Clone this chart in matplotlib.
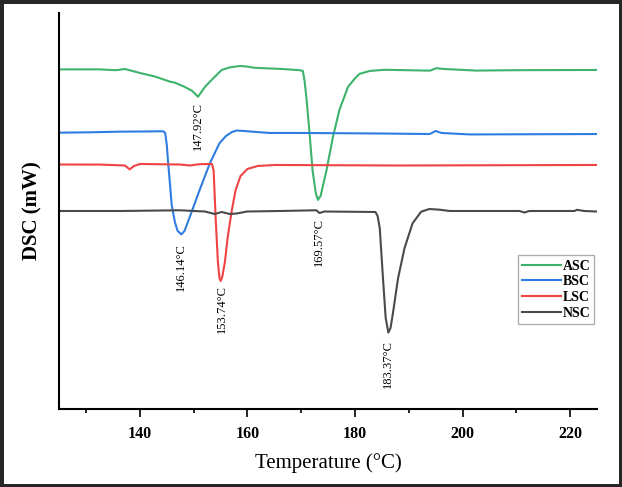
import matplotlib
matplotlib.use("Agg")
import matplotlib.pyplot as plt
from matplotlib.ticker import MultipleLocator

plt.rcParams["font.family"] = ["Liberation Serif", "DejaVu Serif"]

# DSC traces: temperature (°C) and heat flow (arbitrary mW, stacked)
asc_t = [125, 132.6, 135.3, 135.9, 137.2, 140.0, 142.8, 145.6, 146.5, 148.3, 149.7,
         150.8, 152.1, 153.3, 155.2, 156.7, 158.6, 160.0, 161.3, 166.5, 169.7, 170.3,
         170.6, 171.0, 171.6, 172.1, 172.7, 173.1, 173.6, 174.7, 175.9, 177.1, 178.7,
         179.9, 180.8, 182.7, 185.5, 193.2, 194.0, 195.1, 196.6, 202.5, 210.6, 224.9]
asc_v = [8.57, 8.57, 8.55, 8.555, 8.58, 8.48, 8.39, 8.26, 8.235, 8.13, 8.03,
         7.88, 8.13, 8.30, 8.555, 8.62, 8.656, 8.64, 8.61, 8.58, 8.55, 8.53,
         8.30, 7.80, 6.87, 6.03, 5.45, 5.28, 5.38, 6.03, 6.87, 7.55, 8.13,
         8.33, 8.455, 8.53, 8.56, 8.54, 8.54, 8.60, 8.58, 8.54, 8.55, 8.555]

bsc_t = [125, 130.7, 136.3, 140.9, 144.3, 144.7, 145.0, 145.2, 145.6, 145.9, 146.5,
         147.0, 147.7, 148.3, 149.3, 151.1, 153.0, 154.8, 156.0, 157.1, 158.0, 160.4,
         164.1, 169.7, 184.6, 193.9, 195.0, 196.1, 201.3, 224.9]
bsc_v = [6.974, 6.984, 7.0, 7.005, 7.01, 6.967, 6.66, 6.29, 5.66, 5.16, 4.72,
         4.50, 4.41, 4.50, 4.86, 5.53, 6.20, 6.71, 6.89, 6.99, 7.03, 7.005,
         6.967, 6.967, 6.954, 6.94, 7.017, 6.967, 6.93, 6.94]

lsc_t = [125, 132.6, 137.2, 138.1, 138.9, 140.0, 147.4, 149.3, 151.1, 153.4, 153.7,
         154.1, 154.5, 154.8, 155.0, 155.3, 155.8, 156.3, 157.1, 157.8, 158.7, 160.0,
         161.9, 165.1, 188.3, 224.9]
lsc_v = [6.172, 6.17, 6.147, 6.05, 6.135, 6.185, 6.172, 6.147, 6.18, 6.185, 6.03,
         4.77, 3.71, 3.31, 3.235, 3.335, 3.71, 4.32, 5.03, 5.53, 5.88, 6.06,
         6.135, 6.16, 6.147, 6.16]

nsc_t = [125, 136.3, 147.4, 152.1, 153.9, 155.2, 156.7, 158.0, 159.9, 166.0, 172.8,
         173.4, 174.3, 183.8, 184.2, 184.6, 185.2, 185.7, 186.2, 186.6, 187.0, 188.0,
         189.2, 190.7, 192.3, 193.8, 195.7, 197.6, 210.6, 211.5, 212.4, 220.8, 221.3,
         222.6, 224.9]
nsc_v = [5.0, 5.0, 5.018, 4.987, 4.924, 4.975, 4.924, 4.937, 4.987, 5.0, 5.018,
         4.95, 4.987, 4.975, 4.874, 4.571, 3.303, 2.302, 1.936, 2.05, 2.378, 3.303,
         4.06, 4.69, 4.982, 5.05, 5.033, 5.0, 5.0, 4.962, 5.0, 5.0, 5.03,
         5.0, 4.987]

series = ["ASC", "BSC", "LSC", "NSC"]
colors = ["#3db36b", "#2f7de1", "#f04343", "#4a4a4a"]

# peak annotations: text, temperature and value of the label top
peak_labels = ["147.92°C", "146.14°C", "153.74°C", "169.57°C", "183.37°C"]
peak_t = [150.8, 147.7, 155.25, 173.3, 186.1]
peak_v = [7.75, 4.19, 3.13, 4.82, 1.75]

fig = plt.figure(figsize=(6.22, 4.87), dpi=100)
fig.patch.set_edgecolor("#262626")
fig.patch.set_linewidth(3.8)
ax = fig.add_axes([0.0953, 0.1595, 0.8645, 0.8145])

curves = [(asc_t, asc_v), (bsc_t, bsc_v), (lsc_t, lsc_v), (nsc_t, nsc_v)]
for (t, v), name, c in zip(curves, series, colors):
    ax.plot(t, v, color=c, lw=1.5, label=name, solid_joinstyle="round")

for txt, t, v in zip(peak_labels, peak_t, peak_v):
    ax.text(t, v, txt, rotation=90, ha="center", va="top", fontsize=9)

ax.set_xlim(125, 225)
ax.set_ylim(0, 10)
ax.xaxis.set_major_locator(MultipleLocator(20))
ax.xaxis.set_minor_locator(MultipleLocator(10))
ax.tick_params(axis="x", which="major", direction="out", length=6, width=1.2,
               labelsize=11.5, pad=6)
ax.tick_params(axis="x", which="minor", direction="out", length=3, width=1.2)
ax.set_yticks([])
for lbl in ax.get_xticklabels():
    lbl.set_fontweight("bold")

for s in ["top", "right"]:
    ax.spines[s].set_visible(False)
for s in ["left", "bottom"]:
    ax.spines[s].set_linewidth(1.5)

ax.set_xlabel("Temperature (°C)", fontsize=15, labelpad=8)
ax.set_ylabel("DSC (mW)", fontsize=15, fontweight="bold", labelpad=12)

leg = ax.legend(loc="lower right", bbox_to_anchor=(0.995, 0.215), fontsize=10,
                frameon=True, fancybox=False, handlelength=2.8, handletextpad=0.1,
                labelspacing=0.2, borderpad=0.3, borderaxespad=0)
leg.get_frame().set_edgecolor("#9a9a9a")
leg.get_frame().set_linewidth(1.0)
for t in leg.get_texts():
    t.set_fontweight("bold")

fig.savefig("out.png", dpi=100)
